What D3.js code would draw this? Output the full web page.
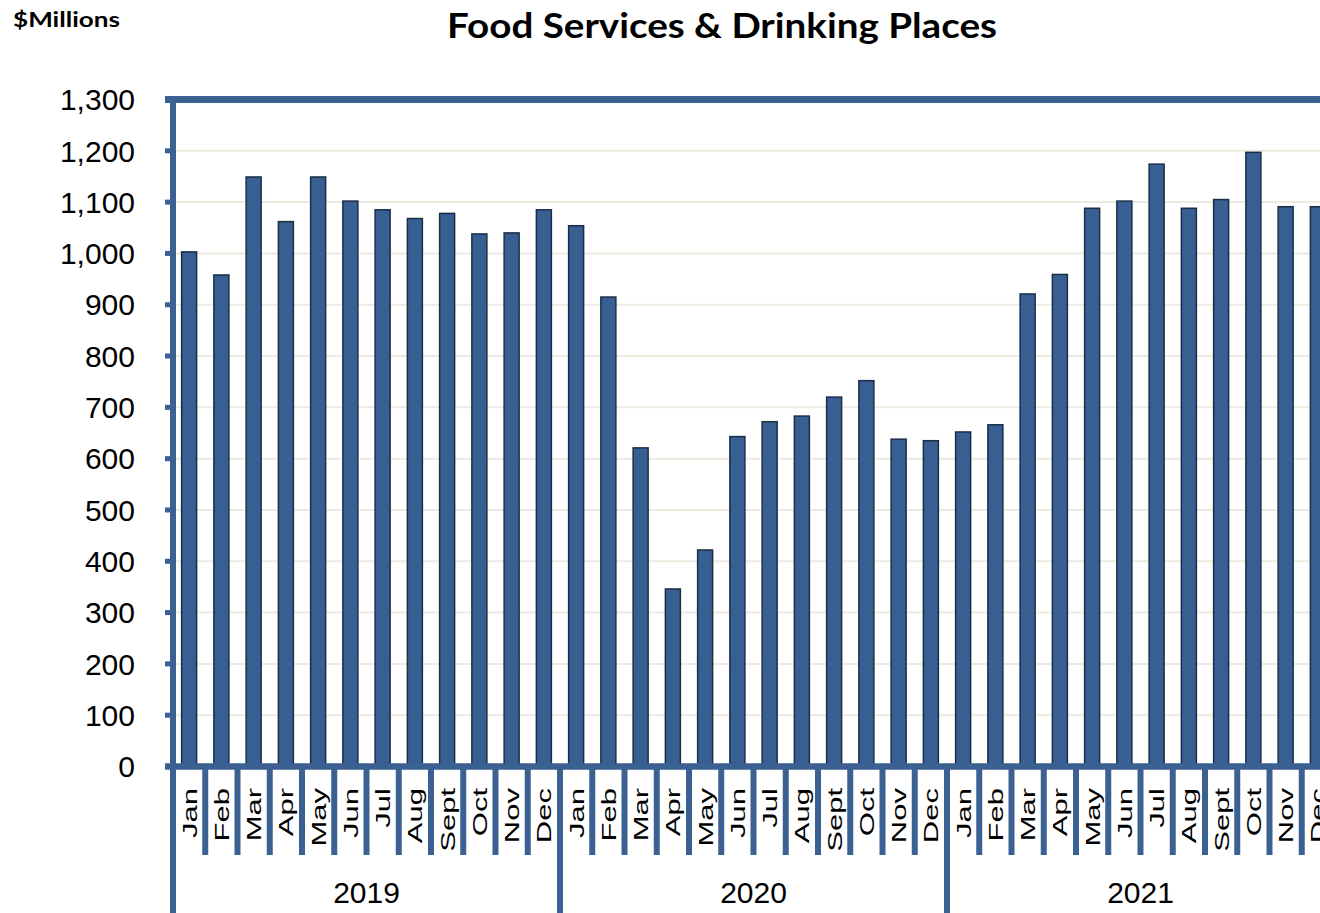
<!DOCTYPE html>
<html>
<head>
<meta charset="utf-8">
<script src="https://cdn.jsdelivr.net/npm/d3@7"></script>
<style>
  html, body { margin: 0; padding: 0; background: #ffffff; overflow: hidden; }
  svg { display: block; }
</style>
</head>
<body>
<svg id="chart" width="1320" height="913"></svg>
<script>
// ---- data ----
const months = ["Jan","Feb","Mar","Apr","May","Jun","Jul","Aug","Sept","Oct","Nov","Dec"];
const years = ["2019","2020","2021"];
const values2019 = [1003, 958, 1149, 1062, 1149, 1102, 1085, 1068, 1078, 1038, 1040, 1085];
const values2020 = [1054, 915, 621, 346, 422, 643, 672, 683, 720, 752, 638, 635];
const values2021 = [652, 666, 921, 959, 1088, 1102, 1174, 1088, 1105, 1197, 1091, 1091];
const yTicks = [0,100,200,300,400,500,600,700,800,900,1000,1100,1200,1300];

const seriesByYear = [values2019, values2020, values2021];
const data = [];
years.forEach((yr, yi) => {
  months.forEach((m, mi) => {
    data.push({ key: yr + "-" + m, month: m, year: yr, value: seriesByYear[yi][mi] });
  });
});

// ---- layout ----
const axisColor = "#3a6191";
const barFill = "#375f91";
const barStroke = "#1b2e48";
const gridColor = "#ecebe0";

const left = 173, step = 32.25;
const right = left + step * data.length;
const y0 = 766.5, yTop = 99.5;

const svg = d3.select("#chart");

const x = d3.scaleBand()
  .domain(data.map(d => d.key))
  .range([left, right])
  .paddingInner(0.535)
  .paddingOuter(0.2675);

const y = d3.scaleLinear().domain([0, 1300]).range([y0, yTop]);

const boundary = key => x(key) - x.step() * x.paddingInner() / 2;

// gridlines
svg.append("g").selectAll("line")
  .data(yTicks.filter(t => t > 0 && t < 1300))
  .join("line")
  .attr("x1", left).attr("x2", 1320)
  .attr("y1", d => y(d)).attr("y2", d => y(d))
  .attr("stroke", gridColor).attr("stroke-width", 2);

// bars
svg.append("g").selectAll("rect")
  .data(data)
  .join("rect")
  .attr("x", d => x(d.key))
  .attr("width", x.bandwidth())
  .attr("y", d => y(d.value))
  .attr("height", d => y(0) - y(d.value))
  .attr("fill", barFill)
  .attr("stroke", barStroke)
  .attr("stroke-width", 1.5);

// y axis ticks
svg.append("g").selectAll("line")
  .data(yTicks)
  .join("line")
  .attr("x1", 165).attr("x2", left)
  .attr("y1", d => y(d)).attr("y2", d => y(d))
  .attr("stroke", axisColor).attr("stroke-width", 5);

// y labels
const fmt = d3.format(",");
svg.append("g").selectAll("text")
  .data(yTicks)
  .join("text")
  .attr("x", 135)
  .attr("y", d => y(d) + 10.7)
  .attr("text-anchor", "end")
  .attr("font-family", "'Liberation Sans', Arial, sans-serif")
  .attr("font-size", 30)
  .attr("fill", "#000")
  .text(d => fmt(d));

// top border
svg.append("line")
  .attr("x1", 165).attr("x2", 1320)
  .attr("y1", y(1300)).attr("y2", y(1300))
  .attr("stroke", axisColor).attr("stroke-width", 7);

// x axis line
svg.append("line")
  .attr("x1", 165).attr("x2", 1320)
  .attr("y1", y(0)).attr("y2", y(0))
  .attr("stroke", axisColor).attr("stroke-width", 6.5);

// month separators
svg.append("g").selectAll("line")
  .data(data.filter(d => d.month !== "Jan"))
  .join("line")
  .attr("x1", d => boundary(d.key)).attr("x2", d => boundary(d.key))
  .attr("y1", y(0)).attr("y2", 855)
  .attr("stroke", axisColor).attr("stroke-width", 6);

// year separators (incl. left axis)
svg.append("g").selectAll("line")
  .data(data.filter(d => d.month === "Jan"))
  .join("line")
  .attr("x1", d => boundary(d.key)).attr("x2", d => boundary(d.key))
  .attr("y1", d => d.year === "2019" ? y(1300) - 3.5 : y(0))
  .attr("y2", 913)
  .attr("stroke", axisColor).attr("stroke-width", 6);

// month labels (rotated)
svg.append("g").selectAll("text")
  .data(data)
  .join("text")
  .attr("transform", d => {
    const cx = x(d.key) + x.bandwidth() / 2;
    return `translate(${cx + 7.6},788) rotate(-90) scale(1,0.68)`;
  })
  .attr("text-anchor", "end")
  .attr("font-family", "'Liberation Sans', Arial, sans-serif")
  .attr("font-size", 31)
  .attr("fill", "#000")
  .text(d => d.month);

// year labels
svg.append("g").selectAll("text")
  .data(years)
  .join("text")
  .attr("x", yr => {
    const a = boundary(yr + "-Jan");
    return a + step * 6;
  })
  .attr("y", 903)
  .attr("text-anchor", "middle")
  .attr("font-family", "'Liberation Sans', Arial, sans-serif")
  .attr("font-size", 30)
  .attr("fill", "#000")
  .text(d => d);

// title
svg.append("text")
  .attr("x", 722).attr("y", 38)
  .attr("text-anchor", "middle")
  .attr("font-family", "Lato, 'Open Sans', sans-serif")
  .attr("font-weight", "bold")
  .attr("font-size", 34)
  .attr("textLength", 550)
  .attr("lengthAdjust", "spacingAndGlyphs")
  .attr("fill", "#000")
  .text("Food Services & Drinking Places");

svg.append("text")
  .attr("x", 13).attr("y", 27)
  .attr("font-family", "Lato, 'Open Sans', sans-serif")
  .attr("font-weight", "bold")
  .attr("font-size", 20)
  .attr("textLength", 107)
  .attr("lengthAdjust", "spacingAndGlyphs")
  .attr("fill", "#000")
  .text("$Millions");
</script>
</body>
</html>
